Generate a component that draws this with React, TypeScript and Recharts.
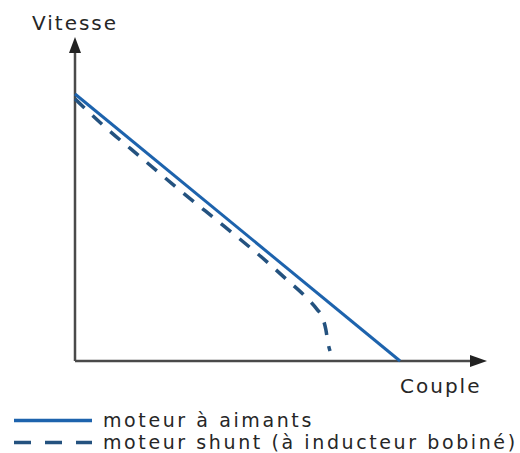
import { Line, LineChart, ReferenceDot, ReferenceLine, XAxis, YAxis } from "recharts";

// couple (x) / vitesse (y), 0..100 in axis units
const aimantsCouple = [0, 78.9];
const aimantsVitesse = [82.4, 0];

const shuntCouple = [0, 6.8, 16.5, 26.2, 36.4, 46.6, 51.5, 56.3, 58.7, 60.0, 60.9, 61.4, 61.9];
const shuntVitesse = [80.9, 72.8, 62.3, 51.9, 41.4, 30.6, 25.0, 19.4, 16.0, 13.6, 9.6, 5.6, 3.1];

const xTitle = "Couple";
const yTitle = "Vitesse";
const seriesNames = ["moteur à aimants", "moteur shunt (à inducteur bobiné)"];

const aimants = aimantsCouple.map((x, i) => ({ x, y: aimantsVitesse[i] }));
const shunt = shuntCouple.map((x, i) => ({ x, y: shuntVitesse[i] }));

const FONT = "'DejaVu Sans', sans-serif";
const TEXT = "#262626";
const AXIS = "#4a4a4a";
const SOLID = "#1d63ad";
const DASHED = "#24527f";

const legendItems = [
  { name: seriesNames[0], color: SOLID, dash: undefined as string | undefined },
  { name: seriesNames[1], color: DASHED, dash: "17 14" },
];

function ArrowRight(props: any) {
  const { cx, cy } = props;
  return <polygon points={`${cx},${cy} ${cx - 17},${cy - 6} ${cx - 17},${cy + 6}`} fill="#222" />;
}

function ArrowUp(props: any) {
  const { cx, cy } = props;
  return <polygon points={`${cx},${cy} ${cx - 6},${cy + 16} ${cx + 6},${cy + 16}`} fill="#222" />;
}

const textStyle = {
  fontFamily: FONT,
  fontSize: 20,
  letterSpacing: 2,
  lineHeight: "20px",
  color: TEXT,
  whiteSpace: "nowrap" as const,
};

const legendText = { ...textStyle, fontSize: 19, letterSpacing: 2.6, lineHeight: "19px" };

export default function App() {
  return (
    <div style={{ position: "absolute", left: 0, top: 0, width: 520, height: 453, background: "#fff", overflow: "hidden" }}>
      <LineChart width={520} height={453} margin={{ top: 37, right: 33, bottom: 92, left: 75 }}>
        <XAxis type="number" dataKey="x" domain={[0, 100]} hide />
        <YAxis type="number" dataKey="y" domain={[0, 100]} hide />
        <ReferenceLine segment={[{ x: 0, y: 0 }, { x: 97, y: 0 }]} stroke={AXIS} strokeWidth={2.5} />
        <ReferenceLine segment={[{ x: 0, y: 0 }, { x: 0, y: 96 }]} stroke={AXIS} strokeWidth={2.5} />
        <ReferenceDot x={100} y={0} r={0} shape={ArrowRight} ifOverflow="visible" />
        <ReferenceDot x={0} y={100} r={0} shape={ArrowUp} ifOverflow="visible" />
        <Line
          data={aimants}
          dataKey="y"
          name={seriesNames[0]}
          type="linear"
          stroke={SOLID}
          strokeWidth={3}
          dot={false}
          isAnimationActive={false}
        />
        <Line
          data={shunt}
          dataKey="y"
          name={seriesNames[1]}
          type="monotone"
          stroke={DASHED}
          strokeWidth={3.5}
          strokeDasharray="13 11"
          dot={false}
          isAnimationActive={false}
        />
      </LineChart>
      <div style={{ ...textStyle, position: "absolute", left: 32, top: 13 }}>{yTitle}</div>
      <div style={{ ...textStyle, position: "absolute", left: 400, top: 376 }}>{xTitle}</div>
      <div style={{ position: "absolute", left: 0, top: 409 }}>
        {legendItems.map((it) => (
          <div key={it.name} style={{ display: "flex", alignItems: "center", height: 22.3 }}>
            <svg width={103} height={22} style={{ flex: "none" }}>
              <line x1={14} x2={92} y1={11.5} y2={11.5} stroke={it.color} strokeWidth={3.5} strokeDasharray={it.dash} />
            </svg>
            <span style={legendText}>{it.name}</span>
          </div>
        ))}
      </div>
    </div>
  );
}
